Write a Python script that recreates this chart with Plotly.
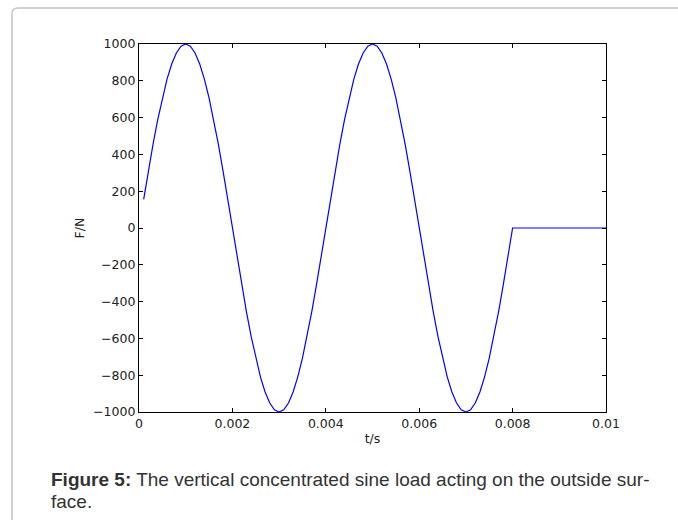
import plotly.graph_objects as go

# Time samples (s) and force (N)
t_s = [0.0001, 0.0002, 0.0003, 0.0004, 0.0005, 0.0006, 0.0007, 0.0008, 0.0009, 0.0010,
       0.0011, 0.0012, 0.0013, 0.0014, 0.0015, 0.0016, 0.0017, 0.0018, 0.0019, 0.0020,
       0.0021, 0.0022, 0.0023, 0.0024, 0.0025, 0.0026, 0.0027, 0.0028, 0.0029, 0.0030,
       0.0031, 0.0032, 0.0033, 0.0034, 0.0035, 0.0036, 0.0037, 0.0038, 0.0039, 0.0040,
       0.0041, 0.0042, 0.0043, 0.0044, 0.0045, 0.0046, 0.0047, 0.0048, 0.0049, 0.0050,
       0.0051, 0.0052, 0.0053, 0.0054, 0.0055, 0.0056, 0.0057, 0.0058, 0.0059, 0.0060,
       0.0061, 0.0062, 0.0063, 0.0064, 0.0065, 0.0066, 0.0067, 0.0068, 0.0069, 0.0070,
       0.0071, 0.0072, 0.0073, 0.0074, 0.0075, 0.0076, 0.0077, 0.0078, 0.0079, 0.0080,
       0.0100]
force_N = [156, 309, 454, 588, 707, 809, 891, 951, 988, 1000,
           988, 951, 891, 809, 707, 588, 454, 309, 156, 0,
           -156, -309, -454, -588, -707, -809, -891, -951, -988, -1000,
           -988, -951, -891, -809, -707, -588, -454, -309, -156, 0,
           156, 309, 454, 588, 707, 809, 891, 951, 988, 1000,
           988, 951, 891, 809, 707, 588, 454, 309, 156, 0,
           -156, -309, -454, -588, -707, -809, -891, -951, -988, -1000,
           -988, -951, -891, -809, -707, -588, -454, -309, -156, 0,
           0]

x_ticks = [0, 0.002, 0.004, 0.006, 0.008, 0.01]
x_tick_labels = ["0", "0.002", "0.004", "0.006", "0.008", "0.01"]
y_ticks = [-1000, -800, -600, -400, -200, 0, 200, 400, 600, 800, 1000]
y_tick_labels = ["\u22121000", "\u2212800", "\u2212600", "\u2212400", "\u2212200", "0",
                 "200", "400", "600", "800", "1000"]
caption_bold = "Figure 5:"
caption_line1 = " The vertical concentrated sine load acting on the outside sur-"
caption_line2 = "face."

W, H = 678, 520
L, R, T, B = 139, 606, 44, 412

def px(xp):
    return (xp - L) / (R - L)

def py(yp):
    return (B - yp) / (B - T)

fig = go.Figure()
fig.add_trace(go.Scatter(x=t_s, y=force_N, mode="lines",
                         line=dict(color="#0000ff", width=1.2),
                         showlegend=False, hoverinfo="skip"))

tick_font = dict(family="DejaVu Sans, sans-serif", size=12.5, color="#222")
axis_common = dict(showgrid=False, zeroline=False, showline=True, linecolor="black",
                   linewidth=1.3, mirror="ticks", ticks="inside", ticklen=4,
                   tickcolor="black", tickwidth=1, tickfont=tick_font)

fig.update_xaxes(range=[0, 0.01], tickvals=x_ticks, ticktext=x_tick_labels,
                 title=dict(text="t/s", standoff=4, font=tick_font),
                 **axis_common)
fig.update_yaxes(range=[-1000, 1000], tickvals=y_ticks, ticktext=y_tick_labels,
                 title=dict(text="F/N", standoff=5, font=tick_font),
                 **axis_common)

# outer rounded frame (top-left corner)
r = 6
fl, ft = 12, 8
path = (f"M {px(fl)},{py(H + 20)} L {px(fl)},{py(ft + r)} "
        f"Q {px(fl)},{py(ft)} {px(fl + r)},{py(ft)} L {px(W + 20)},{py(ft)}")
fig.add_shape(type="path", path=path, xref="paper", yref="paper",
              line=dict(color="#c4c4c4", width=1.5), layer="below")

cap_font = dict(family="Liberation Sans, Arial, sans-serif", size=19, color="#333")
fig.add_annotation(x=px(49), y=py(479), xref="paper", yref="paper",
                   xanchor="left", yanchor="middle", align="left", showarrow=False,
                   text=f"<b>{caption_bold}</b>{caption_line1}", font=cap_font)
fig.add_annotation(x=px(49), y=py(501), xref="paper", yref="paper",
                   xanchor="left", yanchor="middle", align="left", showarrow=False,
                   text=caption_line2, font=cap_font)

fig.update_layout(width=W, height=H, margin=dict(l=L, r=W - R, t=T, b=H - B),
                  plot_bgcolor="white", paper_bgcolor="white")

fig.write_html("out.html")
